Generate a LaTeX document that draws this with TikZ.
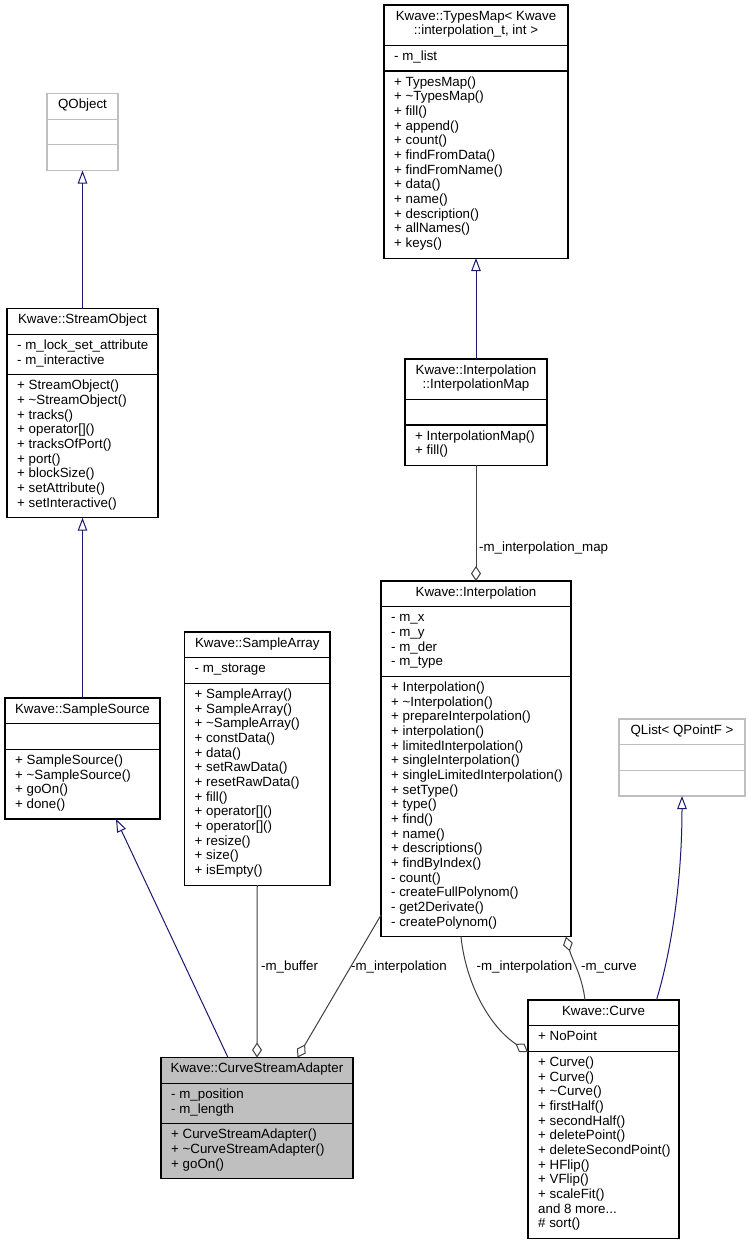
\documentclass[tikz,border=0pt]{standalone}
\usepackage{fontspec}
\setmainfont{Liberation Sans}
\usetikzlibrary{arrows.meta}
\definecolor{inhc}{HTML}{191970}
\definecolor{compc}{HTML}{404040}
\definecolor{lgray}{HTML}{BFBFBF}
\newcommand\mlist[4]{\foreach \t [count=\i from 0] in {#4} {\node[mem] (#1\i) at (#2,{#3+\i*14.67}) {\t};}}
\begin{document}
\begin{tikzpicture}[x=1pt,y=-1pt,
  font=\fontsize{13.33}{14.67}\selectfont,
  box/.style={draw=black, line width=1.1pt, inner sep=0pt, outer sep=0pt, anchor=north west, fill=white},
  gbox/.style={box, draw=lgray},
  mem/.style={anchor=west, inner sep=0pt, text height=9.6pt, text depth=2.8pt},
  ttl/.style={anchor=center, inner sep=0pt, text height=9.6pt, text depth=2.8pt},
  lbl/.style={mem},
  sepl/.style={line width=1.1pt},
  inh/.style={draw=inhc, line width=1pt, -{Triangle[open, length=13pt, width=9.5pt]}},
  comp/.style={draw=compc, line width=1pt, -{Diamond[open, length=15pt, width=10pt]}},
]
\useasboundingbox (0,0) rectangle (751,1243);

% QObject
\node[gbox, minimum width=71pt, minimum height=77.01pt] (qo) at (47,93.5) {};
\draw[sepl, lgray] (47,119.17) -- (118,119.17);
\draw[sepl, lgray] (47,144.84) -- (118,144.84);
\node[ttl] (qo-t) at (82.5,105.3) {QObject};

% StreamObject
\node[box, minimum width=151pt, minimum height=209.04pt] (so) at (7,308.7) {};
\draw[sepl] (7,334.37) -- (158,334.37);
\draw[sepl] (7,374.71) -- (158,374.71);
\node[ttl] (so-t) at (82.5,320.5) {Kwave::StreamObject};
\mlist{so-a}{17}{346.17}{- m\_lock\_set\_attribute, - m\_interactive}
\mlist{so-m}{17}{386.51}{+ StreamObject(), + \textasciitilde StreamObject(), + tracks(), + operator[](), + tracksOfPort(), + port(), + blockSize(), + setAttribute(), + setInteractive()}

% TypesMap
\node[box, minimum width=184pt, minimum height=253.05pt] (tm) at (384,5) {};
\draw[sepl] (384,45.34) -- (568,45.34);
\draw[sepl] (384,71.01) -- (568,71.01);
\node[ttl] (tm-t1) at (476,16.8) {Kwave::TypesMap< Kwave};
\node[ttl] (tm-t2) at (476,31.47) {::interpolation\_t, int >};
\mlist{tm-a}{394}{57.14}{- m\_list}
\mlist{tm-m}{394}{82.81}{+ TypesMap(), + \textasciitilde TypesMap(), + fill(), + append(), + count(), + findFromData(), + findFromName(), + data(), + name(), + description(), + allNames(), + keys()}

% InterpolationMap
\node[box, minimum width=142pt, minimum height=106.35pt] (im) at (405,359) {};
\draw[sepl] (405,399.34) -- (547,399.34);
\draw[sepl] (405,425.01) -- (547,425.01);
\node[ttl] (im-t1) at (476,370.8) {Kwave::Interpolation};
\node[ttl] (im-t2) at (476,385.47) {::InterpolationMap};
\mlist{im-m}{415}{436.81}{+ InterpolationMap(), + fill()}

% Interpolation
\node[box, minimum width=190pt, minimum height=355.74pt] (ip) at (381,581) {};
\draw[sepl] (381,606.67) -- (571,606.67);
\draw[sepl] (381,676.35) -- (571,676.35);
\node[ttl] (ip-t) at (476,592.8) {Kwave::Interpolation};
\mlist{ip-a}{391}{618.47}{- m\_x, - m\_y, - m\_der, - m\_type}
\mlist{ip-m}{391}{688.15}{+ Interpolation(), + \textasciitilde Interpolation(), + prepareInterpolation(), + interpolation(), + limitedInterpolation(), + singleInterpolation(), + singleLimitedInterpolation(), + setType(), + type(), + find(), + name(), + descriptions(), + findByIndex(), - count(), - createFullPolynom(), - get2Derivate(), - createPolynom()}

% SampleArray
\node[box, minimum width=145.5pt, minimum height=253.05pt] (sa) at (184.5,632) {};
\draw[sepl] (184.5,657.67) -- (330,657.67);
\draw[sepl] (184.5,683.34) -- (330,683.34);
\node[ttl] (sa-t) at (257.25,643.8) {Kwave::SampleArray};
\mlist{sa-a}{194.5}{669.47}{- m\_storage}
\mlist{sa-m}{194.5}{695.14}{+ SampleArray(), + SampleArray(), + \textasciitilde SampleArray(), + constData(), + data(), + setRawData(), + resetRawData(), + fill(), + operator[](), + operator[](), + resize(), + size(), + isEmpty()}

% SampleSource
\node[box, minimum width=155pt, minimum height=121.02pt] (ss) at (5,698) {};
\draw[sepl] (5,723.67) -- (160,723.67);
\draw[sepl] (5,749.34) -- (160,749.34);
\node[ttl] (ss-t) at (82.5,709.8) {Kwave::SampleSource};
\mlist{ss-m}{15}{761.14}{+ SampleSource(), + \textasciitilde SampleSource(), + goOn(), + done()}

% QList
\node[gbox, minimum width=126pt, minimum height=77.01pt] (ql) at (619,719) {};
\draw[sepl, lgray] (619,744.67) -- (745,744.67);
\draw[sepl, lgray] (619,770.34) -- (745,770.34);
\node[ttl] (ql-t) at (682,730.8) {QList< QPointF >};

% Curve
\node[box, minimum width=151pt, minimum height=238.38pt] (cv) at (528,1000) {};
\draw[sepl] (528,1025.67) -- (679,1025.67);
\draw[sepl] (528,1051.34) -- (679,1051.34);
\node[ttl] (cv-t) at (603.5,1011.8) {Kwave::Curve};
\mlist{cv-a}{538}{1037.47}{+ NoPoint}
\mlist{cv-m}{538}{1063.14}{+ Curve(), + Curve(), + \textasciitilde Curve(), + firstHalf(), + secondHalf(), + deletePoint(), + deleteSecondPoint(), + HFlip(), + VFlip(), + scaleFit()}
\node[mem] (cv-m10) at (538,{1063.14+10*14.67}) {and 8 more...};
\node[mem] (cv-m11) at (538,{1063.14+11*14.67}) {\# sort()};

% CurveStreamAdapter
\node[box, fill=lgray, minimum width=192pt, minimum height=121.02pt] (csa) at (161,1057.5) {};
\draw[sepl] (161,1083.17) -- (353,1083.17);
\draw[sepl] (161,1123.51) -- (353,1123.51);
\node[ttl] (csa-t) at (257,1069.3) {Kwave::CurveStreamAdapter};
\mlist{csa-a}{171}{1094.97}{- m\_position, - m\_length}
\mlist{csa-m}{171}{1135.31}{+ CurveStreamAdapter(), + \textasciitilde CurveStreamAdapter(), + goOn()}

% inheritance
\draw[inh] (so.north) -- (qo.south);
\draw[inh] (ss.north) -- (so.south);
\draw[inh] ([xshift=-29pt]csa.north) -- ([xshift=33.5pt]ss.south);
\draw[inh] (im.north) -- (tm.south);
\draw[inh] ([xshift=53pt]cv.north) .. controls +(15,-50) and +(0,85) .. (ql.south);

% composition
\draw[comp] (im.south) -- (ip.north);
\draw[comp] (sa.south) -- (csa.north);
\draw[comp] ([yshift=21.7pt]ip.south west) -- ([xshift=40.5pt]csa.north);
\draw[comp] ([xshift=-15pt]ip.south) .. controls +(5,48) and +(-38,-25) .. ([yshift=-52pt]cv.north west);
\draw[comp] ([xshift=-18.5pt]cv.north) .. controls +(-3,-25) and +(6,23) .. ([xshift=-5pt]ip.south east);

% labels
\node[lbl] (l1) at (479,548) {-m\_interpolation\_map};
\node[lbl] (l2) at (261,967) {-m\_buffer};
\node[lbl] (l3) at (351,967) {-m\_interpolation};
\node[lbl] (l4) at (476.5,967) {-m\_interpolation};
\node[lbl] (l5) at (581,967) {-m\_curve};
\end{tikzpicture}
\end{document}
